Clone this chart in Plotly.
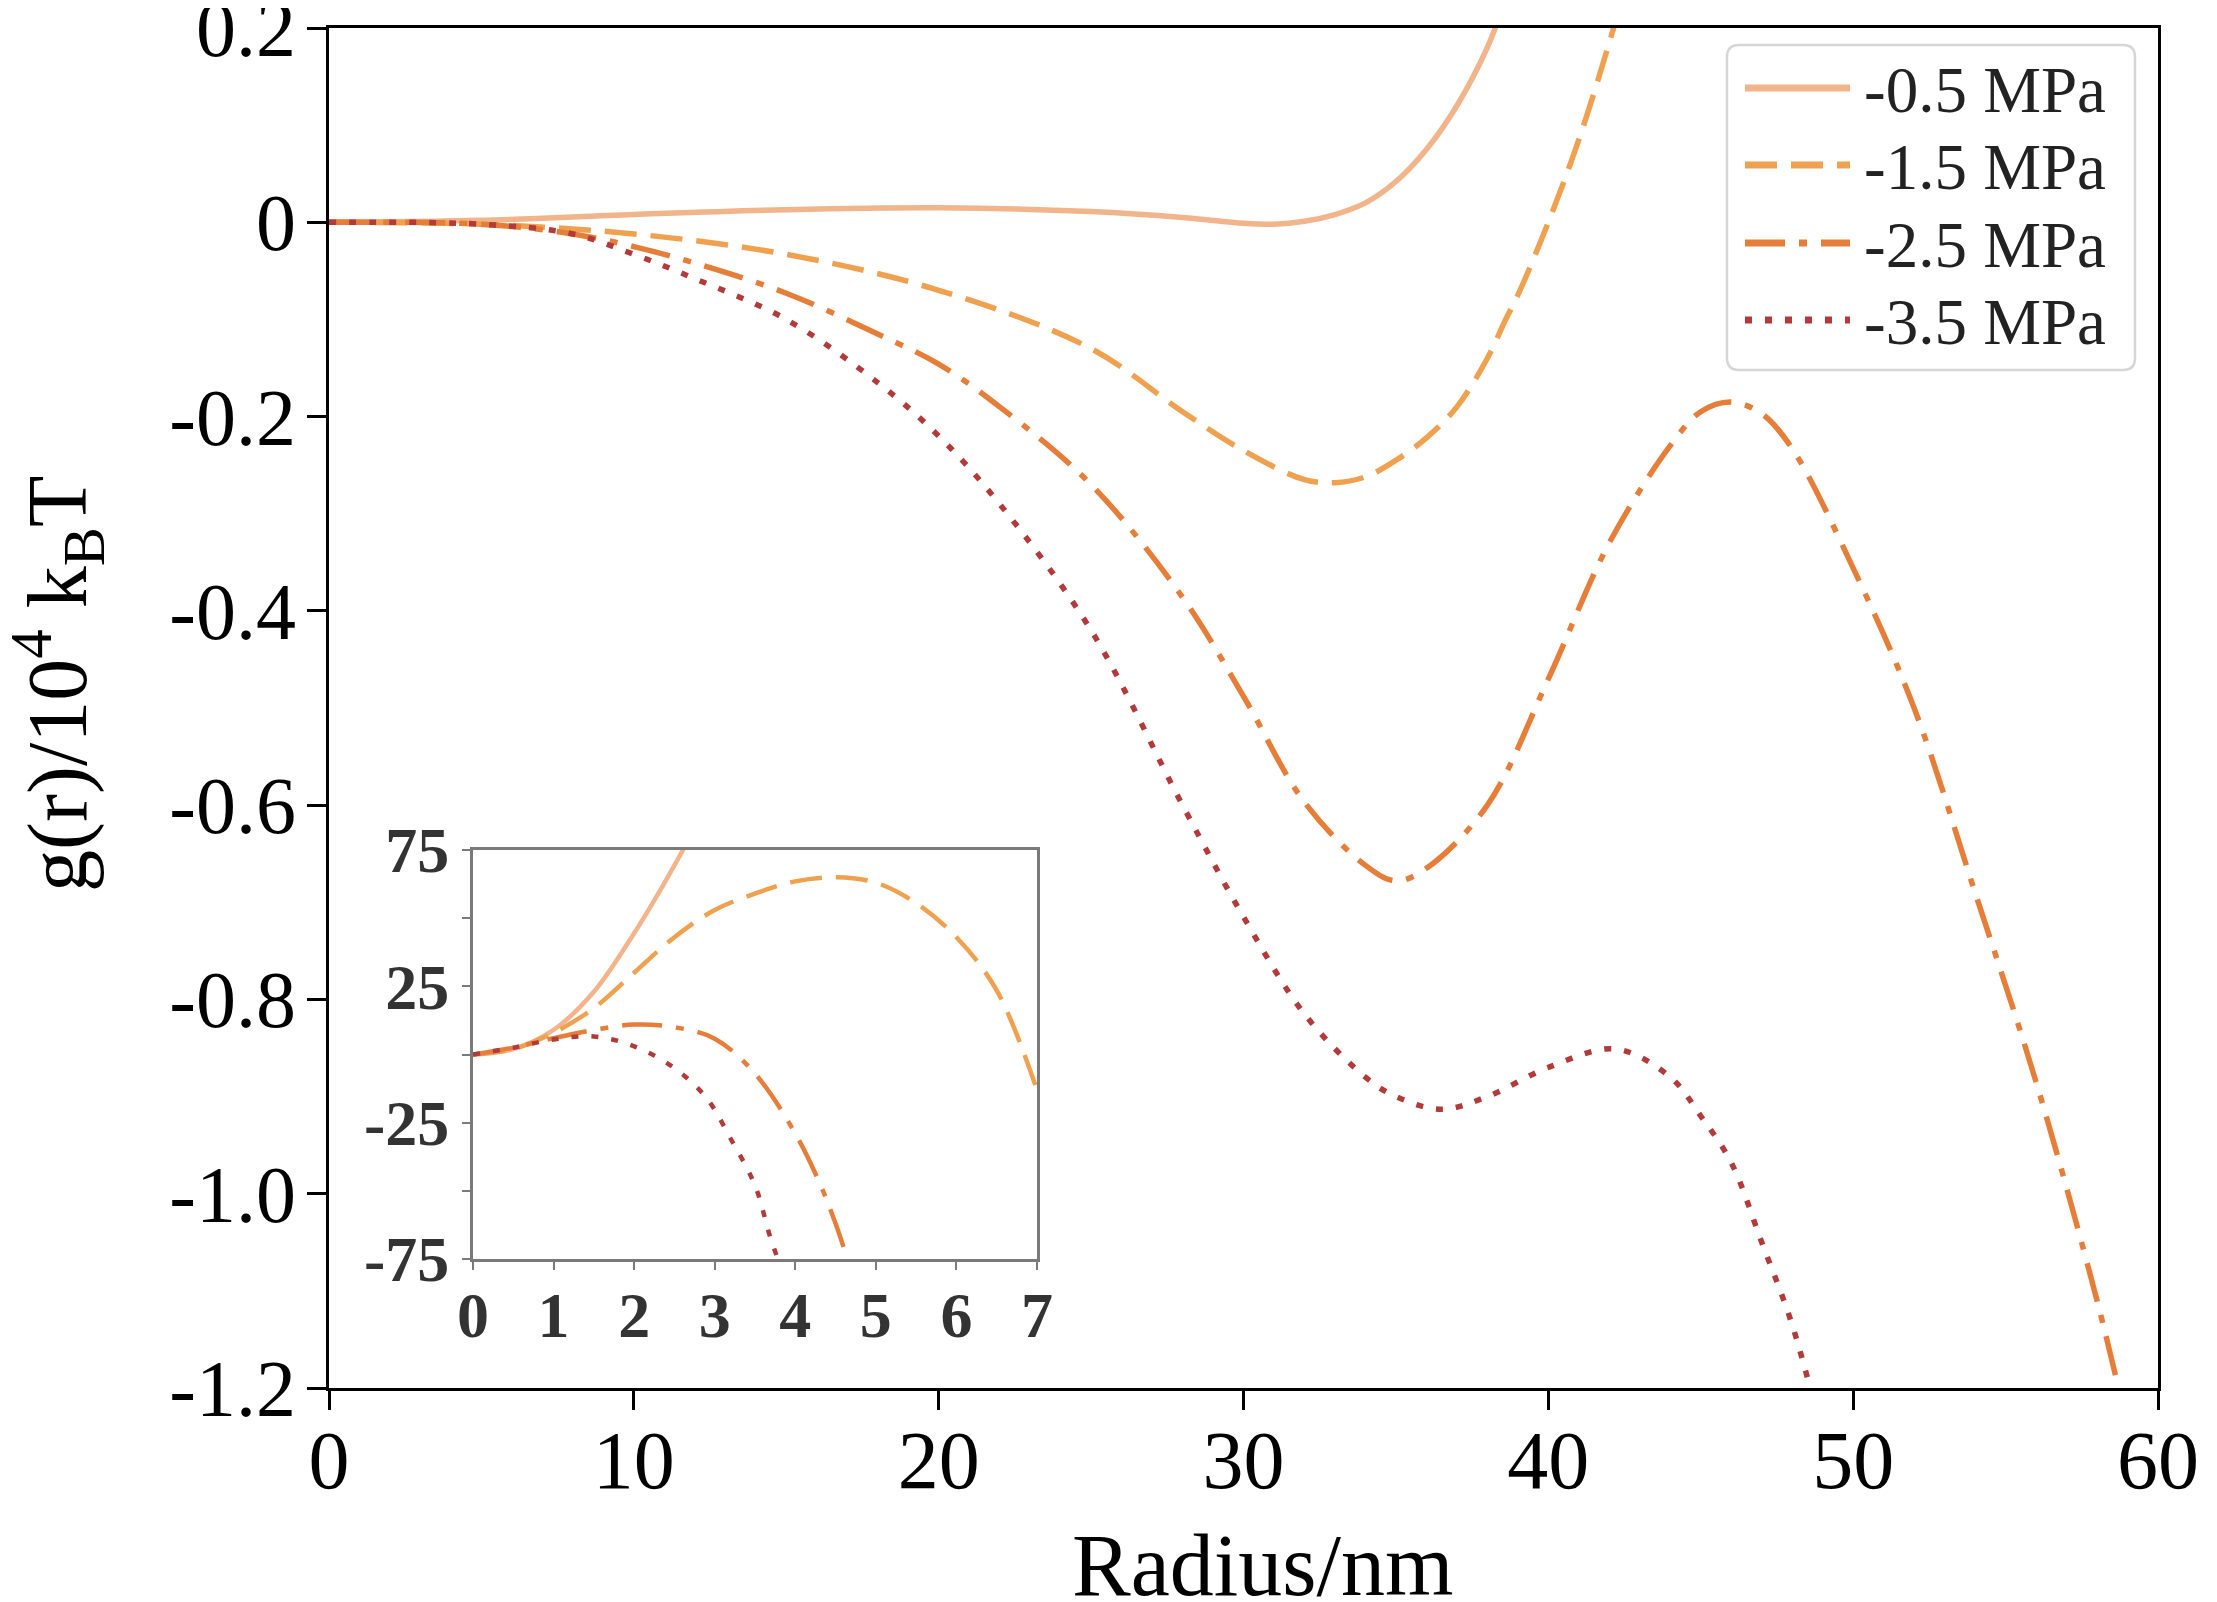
import plotly.graph_objects as go

# series labels and styles
labels = ["-0.5 MPa", "-1.5 MPa", "-2.5 MPa", "-3.5 MPa"]
colors = ["#F2B48A", "#F0A150", "#E67E3A", "#B23A3A"]
dashes = ["solid", "32px,14px", "40px,14px,8px,14px", "7px,13px"]

# main panel: radius (nm) vs g(r) / 1e4 kBT
x_05 = [0, 5, 10, 15, 20, 25, 28, 30, 31, 32, 33, 34, 35, 36, 37, 38, 38.6]
y_05 = [0, 0.002, 0.008, 0.013, 0.015, 0.011, 0.005, -0.001, -0.002, 0.001,
        0.008, 0.02, 0.042, 0.075, 0.12, 0.18, 0.23]

x_15 = [0, 5, 10, 15, 20, 25, 28, 30, 32, 33, 34, 35, 36, 37, 38, 38.6, 39,
        40, 41, 42, 42.5]
y_15 = [0, -0.002, -0.012, -0.033, -0.07, -0.13, -0.195, -0.235, -0.265,
        -0.268, -0.262, -0.245, -0.222, -0.19, -0.14, -0.1, -0.075, 0.0,
        0.085, 0.185, 0.24]

x_25 = [0, 5, 8, 10, 12, 15, 18, 20, 22, 25, 28, 30, 32, 34, 35, 36, 38, 40,
        42, 44, 45, 46, 47, 48, 50, 52, 54, 56, 58, 59]
y_25 = [0, -0.002, -0.012, -0.025, -0.042, -0.073, -0.115, -0.146, -0.19,
        -0.27, -0.386, -0.488, -0.597, -0.662, -0.678, -0.665, -0.6, -0.47,
        -0.33, -0.23, -0.195, -0.185, -0.197, -0.233, -0.356, -0.5, -0.69,
        -0.885, -1.11, -1.24]

x_35 = [0, 5, 8, 10, 12, 15, 18, 20, 22, 25, 28, 30, 32, 34, 35, 36.5, 38,
        40, 42.2, 44, 45, 46, 47, 48, 49]
y_35 = [0, -0.002, -0.012, -0.033, -0.058, -0.1, -0.165, -0.22, -0.29, -0.42,
        -0.6, -0.715, -0.815, -0.88, -0.9, -0.913, -0.9, -0.87, -0.851, -0.88,
        -0.92, -0.968, -1.05, -1.135, -1.25]

# inset panel: radius (nm) vs g(r) / kBT
ix_05 = [0, 0.5, 1, 1.5, 2, 2.35, 2.7]
iy_05 = [0, 2, 9, 23, 44.5, 61.6, 80]

ix_15 = [0, 0.5, 1, 1.5, 2, 2.5, 3, 3.5, 4, 4.5, 5, 5.5, 6, 6.5, 7]
iy_15 = [0, 2, 8, 17, 30, 43, 53, 59, 63.5, 65, 63, 55.5, 43, 23.5, -13]

ix_25 = [0, 0.5, 1, 1.5, 2, 2.5, 3, 3.5, 4, 4.3, 4.5, 4.7]
iy_25 = [0, 2.5, 6, 9, 11, 10, 5.8, -7, -29, -47, -62, -80]

ix_35 = [0, 0.5, 1, 1.5, 2, 2.5, 2.9, 3.2, 3.5, 3.7, 3.9]
iy_35 = [0, 2.5, 5.5, 6.6, 3, -5, -16, -31, -48, -68, -84]

main_x_ticks = [0, 10, 20, 30, 40, 50, 60]
main_y_ticks = [0.2, 0, -0.2, -0.4, -0.6, -0.8, -1.0, -1.2]
main_y_text = ["0.2", "0", "-0.2", "-0.4", "-0.6", "-0.8", "-1.0", "-1.2"]
inset_x_ticks = [0, 1, 2, 3, 4, 5, 6, 7]
inset_y_ticks = [-75, -25, 25, 75]
inset_y_text = ["-75", "-25", "25", "75"]

FONT = "Liberation Serif, Times New Roman, serif"

# plot area in screen pixels (page has an 8px body margin)
PX_L, PX_R, PX_T, PX_B = 329, 2158, 28, 1388


def px(xp):
    return (xp - PX_L) / (PX_R - PX_L)


def py(yp):
    return (PX_B - yp) / (PX_B - PX_T)


fig = go.Figure()

main_data = [(x_05, y_05), (x_15, y_15), (x_25, y_25), (x_35, y_35)]
for (xs, ys), name, c, d in zip(main_data, labels, colors, dashes):
    fig.add_trace(go.Scatter(
        x=xs, y=ys, mode="lines", name=name, showlegend=False,
        line=dict(color=c, width=5.5, dash=d, shape="spline"),
        xaxis="x", yaxis="y",
    ))

inset_data = [(ix_05, iy_05), (ix_15, iy_15), (ix_25, iy_25), (ix_35, iy_35)]
for (xs, ys), name, c, d in zip(inset_data, labels, colors, dashes):
    fig.add_trace(go.Scatter(
        x=xs, y=ys, mode="lines", name=name, showlegend=False,
        line=dict(color=c, width=4.5, dash=d, shape="spline"),
        xaxis="x2", yaxis="y2",
    ))

# hand-drawn legend box (rounded) so the line samples can be long
xl, xr, yt, yb = px(1727), px(2135), py(45), py(370)
rx, ry = 12 / (PX_R - PX_L), 12 / (PX_B - PX_T)
box = (f"M {xl+rx},{yt} L {xr-rx},{yt} Q {xr},{yt} {xr},{yt-ry} "
       f"L {xr},{yb+ry} Q {xr},{yb} {xr-rx},{yb} L {xl+rx},{yb} "
       f"Q {xl},{yb} {xl},{yb+ry} L {xl},{yt-ry} Q {xl},{yt} {xl+rx},{yt} Z")
shapes = [dict(type="path", path=box, xref="paper", yref="paper",
               fillcolor="white", line=dict(color="#d6d6d6", width=2.5))]
annotations = []
rows = [88, 165, 243, 320]
for row, name, c, d in zip(rows, labels, colors, dashes):
    shapes.append(dict(type="line", xref="paper", yref="paper",
                       x0=px(1745), x1=px(1850), y0=py(row), y1=py(row),
                       line=dict(color=c, width=7, dash=d)))
    annotations.append(dict(text=name, xref="paper", yref="paper",
                            x=px(1862), y=py(row + 2), xanchor="left",
                            yanchor="middle", showarrow=False,
                            font=dict(size=65, family=FONT, color="#222222")))

annotations.append(dict(
    text="g(r)/10<sup>4</sup> k<sub>B</sub>T", textangle=-90,
    xref="paper", yref="paper", x=px(58), y=py(684),
    xanchor="center", yanchor="middle", showarrow=False,
    font=dict(size=84, family=FONT, color="black")))
annotations.append(dict(
    text="Radius/nm", xref="paper", yref="paper", x=px(1262), y=py(1565),
    xanchor="center", yanchor="middle", showarrow=False,
    font=dict(size=88, family=FONT, color="black")))

axis_common = dict(showgrid=False, zeroline=False, automargin=False)

fig.update_layout(
    width=2209, height=1594,
    margin=dict(l=PX_L - 8, r=2209 - (PX_R - 8), t=PX_T - 8, b=1594 - (PX_B - 8)),
    paper_bgcolor="white", plot_bgcolor="white",
    font=dict(family=FONT, color="black"),
    showlegend=False,
    shapes=shapes,
    annotations=annotations,
    xaxis=dict(
        range=[0, 60], tickvals=main_x_ticks,
        showline=True, linecolor="black", linewidth=3, mirror=True,
        ticks="outside", ticklen=19, tickwidth=3, tickcolor="black",
        ticklabelstandoff=-20,
        tickfont=dict(size=82, family=FONT), **axis_common,
    ),
    yaxis=dict(
        range=[-1.2, 0.2], tickvals=main_y_ticks, ticktext=main_y_text,
        showline=True, linecolor="black", linewidth=3, mirror=True,
        ticks="outside", ticklen=19, tickwidth=3, tickcolor="black",
        ticklabelstandoff=-5,
        tickfont=dict(size=80, family=FONT), ticklabeloverflow="allow",
        **axis_common,
    ),
    xaxis2=dict(
        domain=[px(473), px(1037)], anchor="y2", range=[0, 7],
        tickvals=inset_x_ticks,
        showline=True, linecolor="#7a7a7a", linewidth=3, mirror=True,
        ticks="outside", ticklen=8, tickwidth=2, tickcolor="#7a7a7a",
        ticklabelstandoff=-10,
        tickfont=dict(size=64, family=FONT, weight="bold", color="#333333"),
        **axis_common,
    ),
    yaxis2=dict(
        domain=[py(1259), py(850)], anchor="x2", range=[-75, 75],
        tickvals=inset_y_ticks, ticktext=inset_y_text,
        showline=True, linecolor="#7a7a7a", linewidth=3, mirror=True,
        ticks="outside", ticklen=8, tickwidth=2, tickcolor="#7a7a7a",
        minor=dict(dtick=25, tick0=0, ticks="outside", ticklen=8,
                   tickwidth=2, tickcolor="#7a7a7a", showgrid=False),
        tickfont=dict(size=64, family=FONT, weight="bold", color="#333333"),
        **axis_common,
    ),
)

fig.write_html("out.html")
